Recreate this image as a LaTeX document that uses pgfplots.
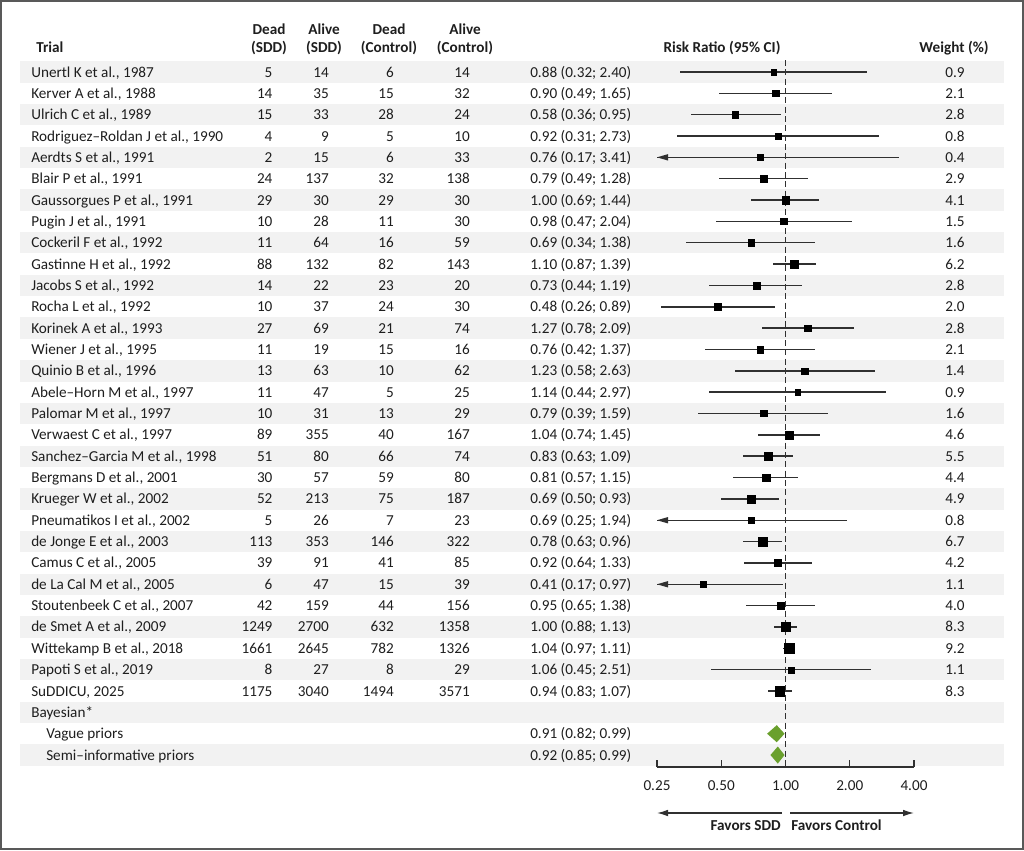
\documentclass[border=0pt]{standalone}
\usepackage{pgfplots}
\pgfplotsset{compat=1.18}
\usepackage{pgfplotstable}
\usepackage{fontspec}
\setmainfont{Carlito}
\usetikzlibrary{arrows.meta}

\definecolor{band}{HTML}{F2F2F2}
\definecolor{frame}{HTML}{595959}
\definecolor{ink}{HTML}{1E1E1E}
\definecolor{ciline}{HTML}{303030}
\definecolor{priorgreen}{HTML}{6AA02D}

% numbers printed in the text font
\pgfkeys{/pgf/number format/assume math mode=true}

% arrow head for intervals that run past the left end of the scale
\pgfdeclareplotmark{cutleft}{%
  \pgfpathmoveto{\pgfpointorigin}%
  \pgfpathlineto{\pgfqpoint{8.25pt}{2.4pt}}%
  \pgfpathlineto{\pgfqpoint{8.25pt}{-2.4pt}}%
  \pgfpathclose\pgfusepathqfill}

\pgfplotstableread[col sep=&, row sep=\\]{
name & ds & as & dc & ac & rr & lo & hi & w \\
Unertl K et al., 1987 & 5 & 14 & 6 & 14 & 0.88 & 0.32 & 2.40 & 0.9 \\
Kerver A et al., 1988 & 14 & 35 & 15 & 32 & 0.90 & 0.49 & 1.65 & 2.1 \\
Ulrich C et al., 1989 & 15 & 33 & 28 & 24 & 0.58 & 0.36 & 0.95 & 2.8 \\
Rodriguez–Roldan J et al., 1990 & 4 & 9 & 5 & 10 & 0.92 & 0.31 & 2.73 & 0.8 \\
Aerdts S et al., 1991 & 2 & 15 & 6 & 33 & 0.76 & 0.17 & 3.41 & 0.4 \\
Blair P et al., 1991 & 24 & 137 & 32 & 138 & 0.79 & 0.49 & 1.28 & 2.9 \\
Gaussorgues P et al., 1991 & 29 & 30 & 29 & 30 & 1.00 & 0.69 & 1.44 & 4.1 \\
Pugin J et al., 1991 & 10 & 28 & 11 & 30 & 0.98 & 0.47 & 2.04 & 1.5 \\
Cockeril F et al., 1992 & 11 & 64 & 16 & 59 & 0.69 & 0.34 & 1.38 & 1.6 \\
Gastinne H et al., 1992 & 88 & 132 & 82 & 143 & 1.10 & 0.87 & 1.39 & 6.2 \\
Jacobs S et al., 1992 & 14 & 22 & 23 & 20 & 0.73 & 0.44 & 1.19 & 2.8 \\
Rocha L et al., 1992 & 10 & 37 & 24 & 30 & 0.48 & 0.26 & 0.89 & 2.0 \\
Korinek A et al., 1993 & 27 & 69 & 21 & 74 & 1.27 & 0.78 & 2.09 & 2.8 \\
Wiener J et al., 1995 & 11 & 19 & 15 & 16 & 0.76 & 0.42 & 1.37 & 2.1 \\
Quinio B et al., 1996 & 13 & 63 & 10 & 62 & 1.23 & 0.58 & 2.63 & 1.4 \\
Abele–Horn M et al., 1997 & 11 & 47 & 5 & 25 & 1.14 & 0.44 & 2.97 & 0.9 \\
Palomar M et al., 1997 & 10 & 31 & 13 & 29 & 0.79 & 0.39 & 1.59 & 1.6 \\
Verwaest C et al., 1997 & 89 & 355 & 40 & 167 & 1.04 & 0.74 & 1.45 & 4.6 \\
Sanchez–Garcia M et al., 1998 & 51 & 80 & 66 & 74 & 0.83 & 0.63 & 1.09 & 5.5 \\
Bergmans D et al., 2001 & 30 & 57 & 59 & 80 & 0.81 & 0.57 & 1.15 & 4.4 \\
Krueger W et al., 2002 & 52 & 213 & 75 & 187 & 0.69 & 0.50 & 0.93 & 4.9 \\
Pneumatikos I et al., 2002 & 5 & 26 & 7 & 23 & 0.69 & 0.25 & 1.94 & 0.8 \\
de Jonge E et al., 2003 & 113 & 353 & 146 & 322 & 0.78 & 0.63 & 0.96 & 6.7 \\
Camus C et al., 2005 & 39 & 91 & 41 & 85 & 0.92 & 0.64 & 1.33 & 4.2 \\
de La Cal M et al., 2005 & 6 & 47 & 15 & 39 & 0.41 & 0.17 & 0.97 & 1.1 \\
Stoutenbeek C et al., 2007 & 42 & 159 & 44 & 156 & 0.95 & 0.65 & 1.38 & 4.0 \\
de Smet A et al., 2009 & 1249 & 2700 & 632 & 1358 & 1.00 & 0.88 & 1.13 & 8.3 \\
Wittekamp B et al., 2018 & 1661 & 2645 & 782 & 1326 & 1.04 & 0.97 & 1.11 & 9.2 \\
Papoti S et al., 2019 & 8 & 27 & 8 & 29 & 1.06 & 0.45 & 2.51 & 1.1 \\
SuDDICU, 2025 & 1175 & 3040 & 1494 & 3571 & 0.94 & 0.83 & 1.07 & 8.3 \\
}\trials

% Bayesian pooled estimates (rows 32 and 33)
\pgfplotstableread[col sep=&, row sep=\\]{
name & row & rr & lo & hi \\
Vague priors & 32 & 0.91 & 0.82 & 0.99 \\
Semi–informative priors & 33 & 0.92 & 0.85 & 0.99 \\
}\bayes

\newcommand\rowy[1]{(72+(#1-1)*21.345)}
\newcommand\twodec[1]{\pgfmathprintnumber[fixed,fixed zerofill,precision=2]{#1}}

\begin{document}
\fontsize{11.4pt}{13.7pt}\selectfont
\color{ink}
\begin{tikzpicture}
\begin{scope}[x=0.75pt, y=-0.75pt]
  \path[use as bounding box] (0,0) rectangle (1024,850);
  % alternating row bands
  \foreach \r in {1,3,...,33}{
    \fill[band] (20,{\rowy{\r}-10.67}) rectangle (1004,{\rowy{\r}+10.67});
  }
  % column headers
  \begin{scope}[font=\bfseries]
    \node[anchor=base west] at (31,52) {Trial};
    \node[anchor=base] at (269,34) {Dead};
    \node[anchor=base] at (269,52) {(SDD)};
    \node[anchor=base] at (324,34) {Alive};
    \node[anchor=base] at (324,52) {(SDD)};
    \node[anchor=base] at (389,34) {Dead};
    \node[anchor=base] at (389,52) {(Control)};
    \node[anchor=base] at (465,34) {Alive};
    \node[anchor=base] at (465,52) {(Control)};
    \node[anchor=base] at (722,52) {Risk Ratio (95\% CI)};
    \node[anchor=base] at (954,52) {Weight (\%)};
  \end{scope}
  % trial rows
  \foreach \i in {0,...,29}{
    \pgfmathsetmacro\yy{72+\i*21.345+5}
    \pgfplotstablegetelem{\i}{name}\of\trials \let\nm\pgfplotsretval
    \pgfplotstablegetelem{\i}{ds}\of\trials \let\cds\pgfplotsretval
    \pgfplotstablegetelem{\i}{as}\of\trials \let\cas\pgfplotsretval
    \pgfplotstablegetelem{\i}{dc}\of\trials \let\cdc\pgfplotsretval
    \pgfplotstablegetelem{\i}{ac}\of\trials \let\cac\pgfplotsretval
    \pgfplotstablegetelem{\i}{rr}\of\trials \let\crr\pgfplotsretval
    \pgfplotstablegetelem{\i}{lo}\of\trials \let\clo\pgfplotsretval
    \pgfplotstablegetelem{\i}{hi}\of\trials \let\chi\pgfplotsretval
    \pgfplotstablegetelem{\i}{w}\of\trials \let\cw\pgfplotsretval
    \node[anchor=base west, inner sep=0pt] at (31,\yy) {\nm};
    \node[anchor=base east, inner sep=0pt] at (272.7,\yy) {\cds};
    \node[anchor=base east, inner sep=0pt] at (329,\yy) {\cas};
    \node[anchor=base east, inner sep=0pt] at (394,\yy) {\cdc};
    \node[anchor=base east, inner sep=0pt] at (470,\yy) {\cac};
    \node[anchor=base west, inner sep=0pt] at (530,\yy)
      {\twodec{\crr} (\twodec{\clo}; \twodec{\chi})};
    \node[anchor=base, inner sep=0pt] at (955,\yy) {\cw};
  }
  % Bayesian block
  \node[anchor=base west, inner sep=0pt] at (31,{\rowy{31}+5}) {Bayesian*};
  \foreach \i in {0,1}{
    \pgfplotstablegetelem{\i}{name}\of\bayes \let\nm\pgfplotsretval
    \pgfplotstablegetelem{\i}{row}\of\bayes \let\crow\pgfplotsretval
    \pgfplotstablegetelem{\i}{rr}\of\bayes \let\crr\pgfplotsretval
    \pgfplotstablegetelem{\i}{lo}\of\bayes \let\clo\pgfplotsretval
    \pgfplotstablegetelem{\i}{hi}\of\bayes \let\chi\pgfplotsretval
    \pgfmathsetmacro\yy{\rowy{\crow}+5}
    \node[anchor=base west, inner sep=0pt] at (46,\yy) {\nm};
    \node[anchor=base west, inner sep=0pt] at (530,\yy)
      {\twodec{\crr} (\twodec{\clo}; \twodec{\chi})};
  }
  % direction arrows under the scale
  \draw[ciline, line width=1pt, -{Latex[length=8.25pt,width=5pt]}] (782,813) -- (657,813);
  \draw[ciline, line width=1pt, -{Latex[length=8.25pt,width=5pt]}] (790,813) -- (914,813);
  \node[anchor=base east, inner sep=0pt, font=\bfseries] at (781,830) {Favors SDD};
  \node[anchor=base west, inner sep=0pt, font=\bfseries] at (791,830) {Favors Control};
  % outer frame
  \draw[frame, line width=1.5pt] (1,1) rectangle (1023,849);
\end{scope}

\begin{axis}[
  at={(492.75pt,-575.25pt)}, anchor=south west,
  scale only axis, width=192.75pt, height=530.25pt,
  xmode=log, log basis x=2,
  xmin=0.25, xmax=4,
  ymin=-33.56, ymax=-0.44,
  axis x line=bottom, axis y line=none,
  x axis line style={-, line width=1.05pt, draw=ciline},
  xtick={0.25,0.5,1,2,4},
  xticklabels={0.25,0.50,1.00,2.00,4.00},
  xtick align=inside,
  major tick length=5.25pt,
  every tick/.style={line width=1.05pt, draw=ciline},
  xticklabel style={font=\fontsize{11.4pt}{13.7pt}\selectfont, text=ink, yshift=-6.5pt},
  /pgf/number format/assume math mode=true,
]
  % line of no effect
  \addplot[draw=ciline, line width=0.9pt, dash pattern=on 4.5pt off 2.5pt]
    coordinates {(1,-0.44) (1,-33.56)};
  % point estimates with 95% intervals, square area following the weight
  \addplot[
    only marks, mark=square*, scatter,
    scatter/use mapped color={draw=black, fill=black},
    mark options={line width=0.2pt},
    visualization depends on={2.0625+0.16875*\thisrow{w} \as \msz},
    scatter/@pre marker code/.append style={/tikz/mark size=\msz pt},
    error bars/.cd, x dir=both, x explicit,
    error bar style={line width=1.1pt, draw=ciline}, error mark=none,
  ] table[
    x=rr, y expr=-\coordindex-1,
    x error plus expr=\thisrow{hi}-\thisrow{rr},
    x error minus expr=\thisrow{rr}-\thisrow{lo},
  ] {\trials};
  % intervals cut at the left end of the scale
  \addplot[only marks, mark=cutleft, color=ciline,
    restrict expr to domain={\thisrow{lo}}{0:0.251}]
    table[x expr=0.25, y expr=-\coordindex-1] {\trials};
  % Bayesian pooled estimates
  \addplot[fill=priorgreen, draw=none]
    coordinates {(0.82,-32) (0.91,-31.6) (0.99,-32) (0.91,-32.4)} -- cycle;
  \addplot[fill=priorgreen, draw=none]
    coordinates {(0.85,-33) (0.92,-32.6) (0.99,-33) (0.92,-33.4)} -- cycle;
\end{axis}
\end{tikzpicture}
\end{document}
